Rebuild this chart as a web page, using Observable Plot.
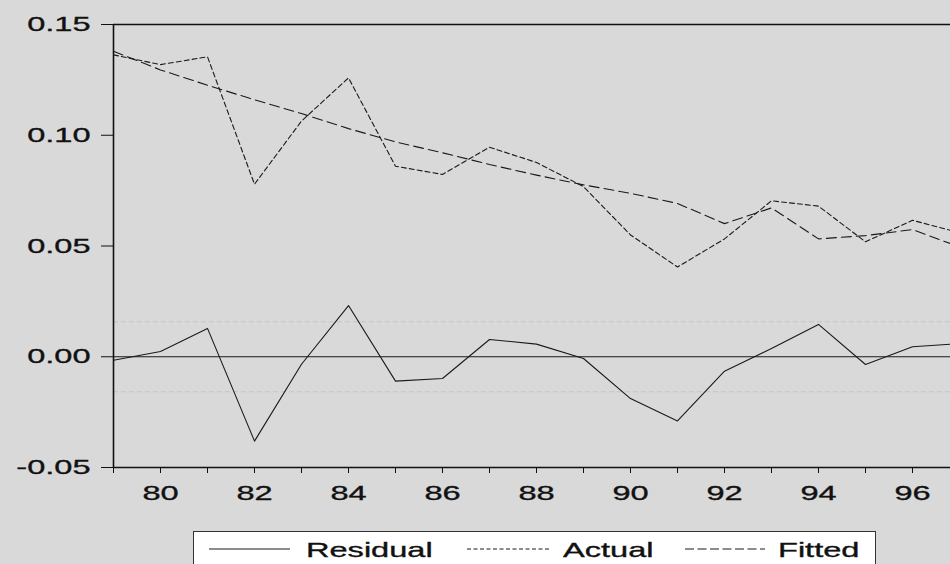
<!DOCTYPE html>
<html>
<head>
<meta charset="utf-8">
<script src="https://cdn.jsdelivr.net/npm/d3@7"></script>
<script src="https://cdn.jsdelivr.net/npm/@observablehq/plot@0.6"></script>
<style>
  html, body { margin: 0; padding: 0; background: #d9d9d9; overflow: hidden; width: 950px; height: 564px; }
  #chart svg, #legend { display: block; }
  #chart svg text, #legend text { stroke: #111; stroke-width: 0.35px; }
</style>
</head>
<body>
<div id="chart"></div>
<svg id="legend" width="950" height="33"></svg>
<script>
const years = [1979, 1980, 1981, 1982, 1983, 1984, 1985, 1986, 1987, 1988, 1989, 1990, 1991, 1992, 1993, 1994, 1995, 1996, 1997];
const actual = [0.1363, 0.1319, 0.1354, 0.0779, 0.1064, 0.1259, 0.0860, 0.0823, 0.0946, 0.0877, 0.0768, 0.0550, 0.0405, 0.0532, 0.0704, 0.0680, 0.0519, 0.0616, 0.0560];
const fitted = [0.1379, 0.1295, 0.1226, 0.1160, 0.1098, 0.1030, 0.0970, 0.0921, 0.0868, 0.0820, 0.0776, 0.0738, 0.0692, 0.0601, 0.0672, 0.0532, 0.0547, 0.0574, 0.0496];
const residual = [-0.0016, 0.0024, 0.0128, -0.0381, -0.0034, 0.0231, -0.0110, -0.0098, 0.0078, 0.0057, -0.0008, -0.0189, -0.0290, -0.0065, 0.0037, 0.0146, -0.0035, 0.0045, 0.0059];
const seBand = [0.0158, -0.0158];
const yTicks = [-0.05, 0.00, 0.05, 0.10, 0.15];
const seriesNames = ["Residual", "Actual", "Fitted"];

const rows = years.map((yr, i) => ({year: yr, actual: actual[i], fitted: fitted[i], residual: residual[i]}));

const FONT = "'Liberation Sans', Arial, sans-serif";
const STRETCH = 1.55;

const chart = Plot.plot({
  width: 950,
  height: 531,
  marginTop: 24,
  marginBottom: 64,
  marginLeft: 113,
  marginRight: 0,
  style: {background: "#d9d9d9", fontFamily: FONT, fontSize: "21px", color: "#111", overflow: "hidden"},
  x: {domain: [1979, 1997], range: [113, 959], label: null},
  y: {domain: [-0.05, 0.15], label: null},
  marks: [
    Plot.ruleY(seBand, {stroke: "#c4c4c4", strokeDasharray: "5,3", strokeWidth: 1}),
    Plot.ruleY([0], {stroke: "#1a1a1a", strokeWidth: 1}),
    Plot.line(rows, {x: "year", y: "fitted", stroke: "#1a1a1a", strokeWidth: 1.1, strokeDasharray: "10,5"}),
    Plot.line(rows, {x: "year", y: "actual", stroke: "#1a1a1a", strokeWidth: 1.1, strokeDasharray: "5,3"}),
    Plot.line(rows, {x: "year", y: "residual", stroke: "#1a1a1a", strokeWidth: 1.1}),
    Plot.ruleX([1979], {stroke: "#111", strokeWidth: 1.6}),
    Plot.ruleY([0.15, -0.05], {stroke: "#111", strokeWidth: 1.6}),
    Plot.axisY(yTicks, {tickSize: 12, tickPadding: 11, tickFormat: d => d.toFixed(2), fontSize: 21, stroke: "#111", label: null}),
    Plot.axisX(years, {tickSize: 6, tickPadding: 12, tickFormat: d => (d % 2 === 0 ? String(d).slice(2) : ""), fontSize: 21, stroke: "#111", label: null})
  ]
});
document.getElementById("chart").appendChild(chart);

// horizontally stretch axis labels like the reference
chart.querySelectorAll("text").forEach(t => {
  const L = t.getComputedTextLength();
  if (L > 0) {
    t.setAttribute("textLength", L * STRETCH);
    t.setAttribute("lengthAdjust", "spacingAndGlyphs");
  }
});

// legend
const lg = d3.select("#legend");
lg.append("rect").attr("x", 193.5).attr("y", 0.5).attr("width", 682).attr("height", 60)
  .attr("fill", "white").attr("stroke", "#333").attr("stroke-width", 1);
const keys = [
  {name: seriesNames[0], x1: 209, x2: 290, tx: 306, dash: null},
  {name: seriesNames[1], x1: 467, x2: 550, tx: 563, dash: "4,2.5"},
  {name: seriesNames[2], x1: 685, x2: 765, tx: 778, dash: "9,3.5"}
];
keys.forEach(k => {
  lg.append("line").attr("x1", k.x1).attr("x2", k.x2).attr("y1", 18).attr("y2", 18)
    .attr("stroke", "#1a1a1a").attr("stroke-width", 1.1).attr("stroke-dasharray", k.dash);
  const t = lg.append("text").attr("x", k.tx).attr("y", 25.7)
    .attr("font-family", FONT).attr("font-size", 21).attr("fill", "#111").text(k.name);
  const L = t.node().getComputedTextLength();
  t.attr("textLength", L * STRETCH).attr("lengthAdjust", "spacingAndGlyphs");
});
</script>
</body>
</html>
